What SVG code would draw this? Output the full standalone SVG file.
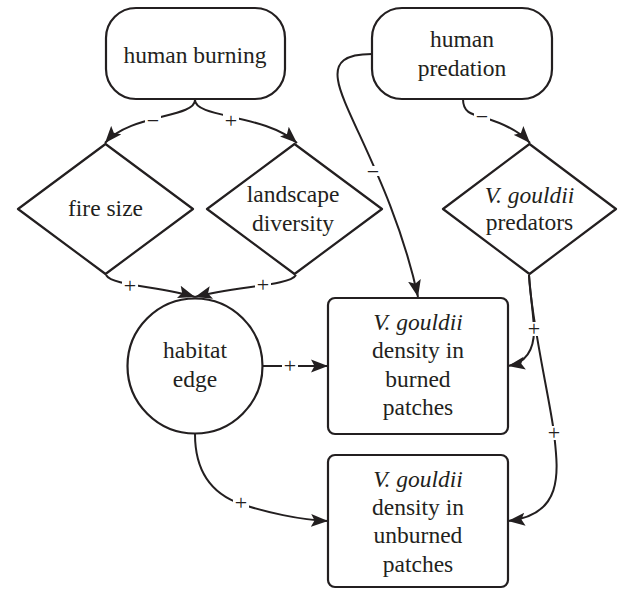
<svg xmlns="http://www.w3.org/2000/svg" width="621" height="589" viewBox="0 0 621 589">
<style>
.n{fill:#fff;stroke:#231f20;stroke-width:2.2;stroke-linejoin:round}
.t{font-family:'Liberation Serif','Times New Roman',Times,serif;font-size:23.5px;fill:#231f20;text-anchor:middle}
.i{font-style:italic}
.e{fill:none;stroke:#231f20;stroke-width:2}
.l{font-family:'Liberation Serif','Times New Roman',Times,serif;font-size:22px;fill:#231f20;text-anchor:middle}
.w{fill:#fff}
</style>
<defs>
<marker id="a" markerWidth="18" markerHeight="14" refX="17" refY="7" orient="auto" markerUnits="userSpaceOnUse">
<path d="M0,0.5 L17,7 L0,13.5 L3.5,7 z" fill="#231f20"/>
</marker>
</defs>
<g id="connectors">
<path class="e" d="M195,100 C195,118 130,114 105,143" marker-end="url(#a)"/>
<path class="e" d="M195,100 C195,118 265,114 297,143" marker-end="url(#a)"/>
<path class="e" d="M106,275 C112,286 160,286 195,297" marker-end="url(#a)"/>
<path class="e" d="M296,275 C290,286 235,286 195,297" marker-end="url(#a)"/>
<path class="e" d="M372,54 C345,54 335,62 338,80 C342,110 395,190 418,297" marker-end="url(#a)"/>
<path class="e" d="M463,99 C463,112 470,114 485,118 C505,124 520,132 530,143" marker-end="url(#a)"/>
<path class="e" d="M262,366 L328,366" marker-end="url(#a)"/>
<path class="e" d="M195,434 C195,475 215,495 241,504 C265,512 300,520 328,521" marker-end="url(#a)"/>
<path class="e" d="M529,275 C531,300 534,320 534,330 C534,352 525,363 508,366" marker-end="url(#a)"/>
<path class="e" d="M529,275 C531,320 550,400 554,433 C558,470 565,515 508,521" marker-end="url(#a)"/>
<rect class="w" x="145" y="116" width="16" height="10"/>
<rect class="w" x="223" y="113" width="16" height="14"/>
<rect class="w" x="122" y="279" width="16" height="14"/>
<rect class="w" x="255" y="278" width="16" height="14"/>
<rect class="w" x="365" y="166" width="16" height="10"/>
<rect class="w" x="474" y="112" width="16" height="10"/>
<rect class="w" x="282" y="359" width="16" height="14"/>
<rect class="w" x="233" y="496" width="16" height="14"/>
<rect class="w" x="526" y="322" width="16" height="14"/>
<rect class="w" x="546" y="426" width="16" height="14"/>
<text class="l" x="153" y="128">−</text>
<text class="l" x="231" y="128">+</text>
<text class="l" x="130" y="293">+</text>
<text class="l" x="263" y="292">+</text>
<text class="l" x="373" y="179">−</text>
<text class="l" x="482" y="124">−</text>
<text class="l" x="290" y="373">+</text>
<text class="l" x="241" y="510">+</text>
<text class="l" x="534" y="336">+</text>
<text class="l" x="554" y="440">+</text>
</g>
<g id="human-burning">
<rect class="n" x="106" y="8" width="179" height="91" rx="30" ry="30"/>
<text class="t" x="195" y="63">human burning</text>
</g>
<g id="human-predation">
<rect class="n" x="372" y="8" width="180" height="91" rx="30" ry="30"/>
<text class="t" x="462" y="47">human</text>
<text class="t" x="462" y="76">predation</text>
</g>
<g id="fire-size">
<polygon class="n" points="105.5,144 193,209 105.5,274 18,209"/>
<text class="t" x="105.5" y="216">fire size</text>
</g>
<g id="landscape-diversity">
<polygon class="n" points="294.5,144 382,209 294.5,274 207,209"/>
<text class="t" x="293" y="202">landscape</text>
<text class="t" x="293" y="231">diversity</text>
</g>
<g id="predators">
<polygon class="n" points="529.5,144 616,209 529.5,274 443,209"/>
<text class="t i" x="529.5" y="203">V. gouldii</text>
<text class="t" x="529.5" y="230">predators</text>
</g>
<g id="habitat-edge">
<circle class="n" cx="195" cy="366" r="67.5"/>
<text class="t" x="195" y="358">habitat</text>
<text class="t" x="195" y="387">edge</text>
</g>
<g id="burned">
<rect class="n" x="328" y="298" width="180" height="136" rx="7"/>
<text class="t i" x="418" y="330">V. gouldii</text>
<text class="t" x="418" y="358">density in</text>
<text class="t" x="418" y="387">burned</text>
<text class="t" x="418" y="415">patches</text>
</g>
<g id="unburned">
<rect class="n" x="328" y="455" width="180" height="132" rx="7"/>
<text class="t i" x="418" y="487">V. gouldii</text>
<text class="t" x="418" y="515">density in</text>
<text class="t" x="418" y="543">unburned</text>
<text class="t" x="418" y="572">patches</text>
</g>
</svg>
